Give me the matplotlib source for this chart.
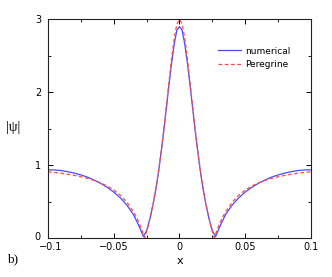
import numpy as np
import matplotlib
matplotlib.use('Agg')
import matplotlib.pyplot as plt
import matplotlib.transforms as mtransforms
from matplotlib.ticker import MultipleLocator

plt.rcParams.update({
    'font.family': 'DejaVu Sans',
    'font.size': 7,
    'xtick.direction': 'in',
    'ytick.direction': 'in',
    'xtick.top': True,
    'ytick.right': True,
})

# values (right half, mirrored below)
x_half = [0.0, 0.002, 0.004, 0.006, 0.008, 0.010, 0.012, 0.014, 0.016, 0.018,
          0.020, 0.022, 0.024, 0.025, 0.0265, 0.0275, 0.030, 0.032, 0.035, 0.040,
          0.045, 0.050, 0.055, 0.060, 0.065, 0.070, 0.075, 0.080, 0.085, 0.090,
          0.095, 0.100]
num_half = [2.90, 2.85, 2.66, 2.40, 2.10, 1.78, 1.46, 1.17, 0.90, 0.67,
            0.47, 0.30, 0.16, 0.10, 0.05, 0.02, 0.13, 0.21, 0.32, 0.45,
            0.55, 0.63, 0.695, 0.75, 0.795, 0.835, 0.865, 0.89, 0.91, 0.925,
            0.933, 0.935]
per_half = [3.00, 2.933, 2.744, 2.466, 2.14, 1.801, 1.477, 1.176, 0.909, 0.676,
            0.476, 0.303, 0.155, 0.089, 0.0, 0.055, 0.175, 0.257, 0.359, 0.49,
            0.586, 0.658, 0.713, 0.756, 0.79, 0.818, 0.84, 0.859, 0.875, 0.888,
            0.899, 0.909]

x = np.concatenate([-np.array(x_half[:0:-1]), x_half])
numerical = np.concatenate([num_half[:0:-1], num_half])
peregrine = np.concatenate([per_half[:0:-1], per_half])

fig = plt.figure(figsize=(3.32, 2.77), dpi=100)
ax = fig.add_axes([0.1446, 0.1408, 0.7921, 0.7895])

ax.plot(x, numerical, color='#4a4aff', lw=0.9, label='numerical')
ax.plot(x, peregrine, color='#ff4a4a', lw=0.9, ls=(0, (3, 2)), label='Peregrine')

ax.set_xlim(-0.1, 0.1)
ax.set_ylim(0, 3)
ax.xaxis.set_major_locator(MultipleLocator(0.05))
ax.xaxis.set_minor_locator(MultipleLocator(0.025))
ax.yaxis.set_major_locator(MultipleLocator(1))
ax.yaxis.set_minor_locator(MultipleLocator(0.5))
ax.xaxis.set_major_formatter(plt.FuncFormatter(
    lambda v, p: '0' if abs(v) < 1e-9 else f'{v:g}'.replace('-', '\u2212')))
ax.tick_params(which='major', length=3.5, width=0.7)
ax.tick_params(which='minor', length=2, width=0.6)
ax.tick_params(axis='x', pad=3)
ax.tick_params(axis='y', pad=5)
for s in ax.spines.values():
    s.set_linewidth(0.8)
    s.set_color('#222222')

# nudge the corner labels apart, as in the reference
fig.canvas.draw()
for t in ax.xaxis.get_major_ticks():
    if abs(t.get_loc() + 0.1) < 1e-6:
        t.label1.set_transform(t.label1.get_transform() +
                               mtransforms.ScaledTranslation(0.03, 0, fig.dpi_scale_trans))
for t in ax.yaxis.get_major_ticks():
    if abs(t.get_loc()) < 1e-6:
        t.label1.set_transform(t.label1.get_transform() +
                               mtransforms.ScaledTranslation(-0.01, 0.015, fig.dpi_scale_trans))

ax.set_xlabel('x', fontsize=8, labelpad=3)
fig.text(0.040, 0.54, '|ψ|', family='Liberation Serif', fontsize=10, ha='center', va='center')
fig.text(0.039, 0.065, 'b)', family='Liberation Serif', fontsize=9.5, ha='center', va='center')

ax.legend(loc='upper left', bbox_to_anchor=(0.645, 0.875), frameon=False,
          fontsize=6.5, handlelength=2.6, handletextpad=0.5, labelspacing=0.45,
          borderpad=0, borderaxespad=0)

fig.savefig('out.png', dpi=100)
